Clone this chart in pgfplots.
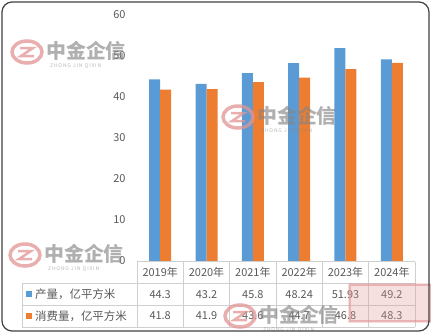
\documentclass[border=0pt]{standalone}
\usepackage{pgfplots}
\pgfplotsset{compat=1.18}
\usepackage{fontspec}
\setmainfont{Noto Sans CJK SC}
\definecolor{cblue}{HTML}{5B9BD5}
\definecolor{corange}{HTML}{ED7D31}
\definecolor{txt}{HTML}{595959}
\definecolor{gridc}{HTML}{CFCFCF}
\definecolor{wm}{HTML}{858585}
\definecolor{wmred}{HTML}{E29494}
\definecolor{frame}{HTML}{404040}
\newcommand{\wmark}[2]{%
  \begin{scope}[shift={(#1bp,-#2bp)}]
    \draw[wmred,line width=3.5bp,opacity=0.75] (0,0) ellipse (15bp and 11bp);
    \draw[wmred,line width=2.5bp,opacity=0.75] (-7bp,4bp) -- (6bp,4bp) -- (-6bp,-4bp) -- (7bp,-4bp);
    \node[anchor=west,inner sep=0,text=wm,opacity=0.65,font=\fontsize{20}{20}\selectfont\bfseries] at (19bp,1bp) {中金企信};
    \node[anchor=west,inner sep=0,text=wm,opacity=0.6,font=\fontsize{5}{5}\selectfont] at (23bp,-14bp) {Z\,H\,O\,N\,G\ \ J\,I\,N\ \ Q\,I\,X\,I\,N};
  \end{scope}}
\begin{document}
\begin{tikzpicture}
\useasboundingbox (0,0) rectangle (431bp,-333bp);
\begin{axis}[
  at={(137bp,-261bp)}, anchor=south west,
  scale only axis, width=278bp, height=246bp,
  xmin=-0.5, xmax=5.5, ymin=0, ymax=60,
  ytick={0,10,...,60}, xtick={0,...,5},
  xticklabels={{2019年\\44.3\\41.8},{2020年\\43.2\\41.9},{2021年\\45.8\\43.6},{2022年\\48.24\\44.7},{2023年\\51.93\\46.8},{2024年\\49.2\\48.3}},
  ybar=0pt, bar width=11bp,
  axis line style={draw=none}, major tick length=0pt,
  /pgf/number format/assume math mode=true,
  tick label style={font=\fontsize{11}{21.8}\selectfont, text=txt},
  xticklabel style={align=center, anchor=north, inner sep=0pt, yshift=-6bp},
  yticklabel style={anchor=east, xshift=-8bp},
  clip=false,
]
\addplot[fill=cblue, draw=none] coordinates {(0,44.3) (1,43.2) (2,45.8) (3,48.24) (4,51.93) (5,49.2)};
\addplot[fill=corange, draw=none] coordinates {(0,41.8) (1,41.9) (2,43.6) (3,44.7) (4,46.8) (5,48.3)};
\end{axis}
% table grid
\draw[gridc,line width=0.8bp] (137bp,-261.5bp) -- (415bp,-261.5bp);
\foreach \yy in {283,305,327} \draw[gridc,line width=0.8bp] (22bp,-\yy bp) -- (415bp,-\yy bp);
\foreach \k in {0,...,6} \draw[gridc,line width=0.8bp] ({137bp+\k*46.333bp},-261.5bp) -- ({137bp+\k*46.333bp},-327bp);
\draw[gridc,line width=0.8bp] (22bp,-283bp) -- (22bp,-327bp);
% row labels
\fill[cblue] (26bp,-291bp) rectangle (32bp,-297bp);
\fill[corange] (26bp,-313bp) rectangle (32bp,-319bp);
\node[anchor=west,inner sep=0,text=txt,font=\fontsize{11.5}{12}\selectfont] at (35bp,-294bp) {产量，亿平方米};
\node[anchor=west,inner sep=0,text=txt,font=\fontsize{11.5}{12}\selectfont] at (35bp,-316bp) {消费量，亿平方米};
% watermarks
\wmark{27}{52}
\wmark{238}{117}
\wmark{25}{255}
\wmark{240}{316}
\fill[wmred,opacity=0.3] (348bp,-283bp) rectangle (433bp,-323bp);
\draw[wmred,line width=2bp,opacity=0.6] (350bp,-285bp) rectangle (431bp,-321bp);
% frame
\draw[frame,line width=1.2bp,rounded corners=10bp] (2bp,-2bp) rectangle (429bp,-331bp);
\end{tikzpicture}
\end{document}
